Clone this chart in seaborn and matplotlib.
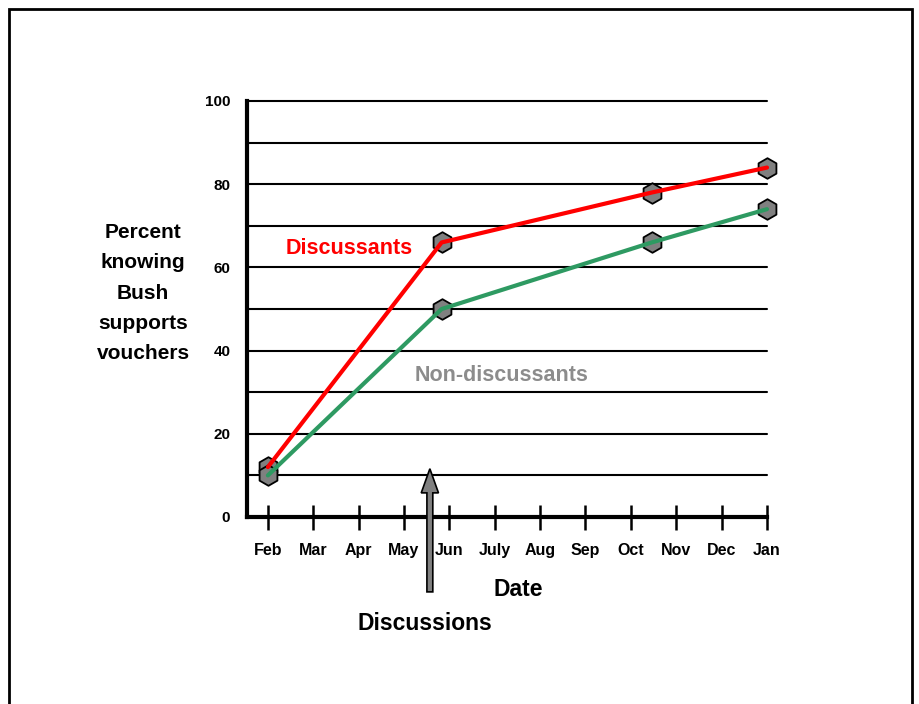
import matplotlib
matplotlib.use("Agg")
import matplotlib.pyplot as plt
from matplotlib.patches import Rectangle, FancyArrow
import seaborn as sns
import pandas as pd

months = ["Feb", "Mar", "Apr", "May", "Jun", "July", "Aug", "Sep", "Oct", "Nov", "Dec", "Jan"]
# survey waves placed on the month axis (0 = Feb)
wave_pos = [0.0, 3.83, 8.46, 11.0]
discussants = [12, 66, 78, 84]
non_discussants = [10, 50, 66, 74]
y_ticks = [0, 20, 40, 60, 80, 100]

sns.set_theme(style="white")
FONT = ["Liberation Sans Narrow", "Liberation Sans", "DejaVu Sans"]
plt.rcParams["font.family"] = FONT
plt.rcParams["font.weight"] = "bold"
plt.rcParams["text.color"] = "black"

df = pd.DataFrame({
    "pos": wave_pos * 2,
    "pct": discussants + non_discussants,
    "group": ["Discussants"] * 4 + ["Non-discussants"] * 4,
})

fig = plt.figure(figsize=(9.19, 7.04), dpi=100)
fig.patch.set_facecolor("white")
ax = fig.add_axes([247 / 919, 1 - 517 / 704, (767 - 247) / 919, 416 / 704])

# outer frame
fig.patches.append(Rectangle((9 / 919, -0.2), (912 - 9) / 919, 1.2 - 9 / 704,
                             transform=fig.transFigure, fill=False,
                             edgecolor="black", lw=2, clip_on=False))

# horizontal rules every 10 points
for yv in range(10, 101, 10):
    ax.plot([-0.46, 11], [yv, yv], color="black", lw=1.5, zorder=1, clip_on=False)

# markers under the lines
ax.scatter(df["pos"], df["pct"], s=220, marker="h", color="#808080",
           edgecolor="black", linewidth=1.3, zorder=3, clip_on=False)

sns.lineplot(data=df, x="pos", y="pct", hue="group",
             palette={"Discussants": "#ff0000", "Non-discussants": "#2e9a62"},
             lw=3, legend=False, ax=ax, zorder=4, sort=False)
for ln in ax.lines[-2:]:
    ln.set_clip_on(False)

ax.set_xlim(-0.46, 11)
ax.set_ylim(0, 100)
ax.set_xticks(range(len(months)))
ax.set_xticklabels(months, fontsize=11.5, fontweight="bold", color="black")
ax.set_yticks(y_ticks)
ax.set_yticklabels([str(v) for v in y_ticks], fontsize=11, fontweight="bold", color="black")
ax.tick_params(axis="x", bottom=True, direction="inout", length=18, width=1.8, pad=10,
               color="black")
ax.tick_params(axis="y", left=False, length=0, pad=12)
ax.set_xlabel("")
ax.set_ylabel("")
for side in ["top", "right"]:
    ax.spines[side].set_visible(False)
for side in ["left", "bottom"]:
    ax.spines[side].set_color("black")
    ax.spines[side].set_linewidth(3)
ax.grid(False)
ax.set_facecolor("white")

ax.text(1.8, 64.5, "Discussants", color="#ff0000", fontsize=15.5, fontweight="bold",
        ha="center", va="center")
ax.text(5.15, 34, "Non-discussants", color="#8c8c8c", fontsize=15.5, fontweight="bold",
        ha="center", va="center")

# arrow marking when discussions took place
arrow = FancyArrow(3.57, -18, 0, 29.6, width=0.13, head_width=0.38, head_length=5.8,
                   length_includes_head=True, facecolor="#808080", edgecolor="black",
                   lw=1.2, clip_on=False, zorder=5)
ax.add_patch(arrow)

fig.text(518 / 919, 1 - 590 / 704, "Date", fontsize=16.5, fontweight="bold",
         ha="center", va="center", color="black")
fig.text(425 / 919, 1 - 623 / 704, "Discussions", fontsize=16.5, fontweight="bold",
         ha="center", va="center", color="black")
fig.text(143 / 919, 1 - 293 / 704, "Percent\nknowing\nBush\nsupports\nvouchers",
         fontsize=15, fontweight="bold", ha="center", va="center", linespacing=1.75,
         color="black")

fig.savefig("out.png", dpi=100, facecolor="white")
